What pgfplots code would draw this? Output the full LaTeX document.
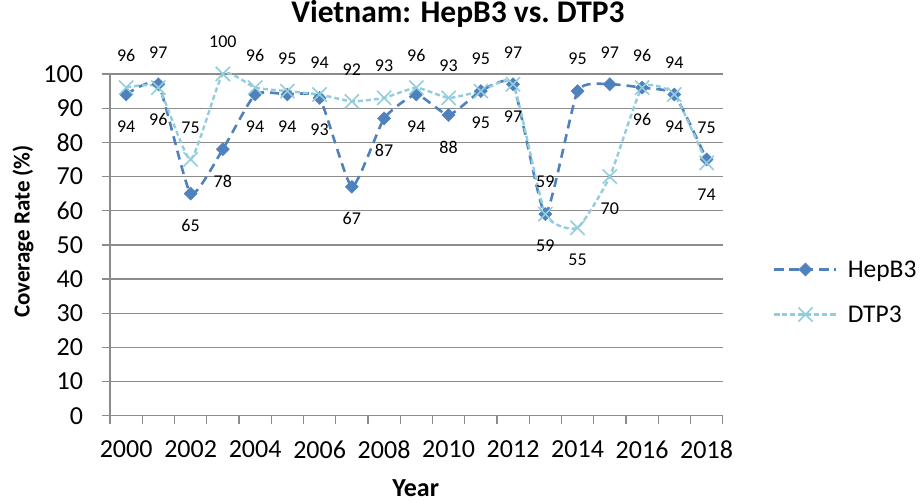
\documentclass[border=0pt]{standalone}
\usepackage{fontspec}
\setmainfont{Carlito}
\usepackage{pgfplots}
\usepackage{pgfplotstable}
\pgfplotsset{compat=1.18}
\definecolor{hep}{HTML}{4F81BD}
\definecolor{dtp}{HTML}{93CDDD}
\definecolor{gridc}{HTML}{8C8C8C}
\pgfplotstableread{
year h hp d dp
2000 94 -1 96 1
2001 97 1 96 -1
2002 65 -1 75 1
2003 78 -1 100 1
2004 94 -1 96 1
2005 94 -1 95 1
2006 93 -1 94 1
2007 67 -1 92 1
2008 87 -1 93 1
2009 94 -1 96 1
2010 88 -1 93 1
2011 95 -1 95 1
2012 97 -1 97 1
2013 59 1 59 -1
2014 95 1 55 -1
2015 97 1 70 -1
2016 96 1 96 -1
2017 94 1 94 -1
2018 75 1 74 -1
}\data
\begin{document}
\begin{tikzpicture}
\useasboundingbox (0pt,0pt) rectangle (920pt,-502pt);
\begin{axis}[
  at={(110pt,-415.7pt)}, anchor=south west,
  scale only axis, width=612.7pt, height=341.7pt,
  xmin=1999.5, xmax=2018.5, ymin=0, ymax=100,
  xtick={1999.5,2000.5,...,2018.5},
  xticklabels={},
  extra x ticks={2000,2002,...,2018},
  extra x tick labels={2000,2002,2004,2006,2008,2010,2012,2014,2016,2018},
  extra x tick style={xtick style={draw=none}, xticklabel style={yshift=-13pt}},
  ytick={0,10,...,100},
  ymajorgrids, grid style={gridc, line width=1.3pt},
  axis x line*=bottom, axis y line*=left,
  axis line style={gridc, line width=1.3pt, -},
  xtick align=outside, ytick align=outside,
  major tick length=8.5pt,
  xtick style={gridc, line width=1.3pt},
  ytick style={gridc, line width=1.3pt},
  tick label style={font=\fontsize{26}{30}\selectfont, text=black},
  yticklabel style={xshift=-15pt},
  yticklabel={\pgfmathprintnumber[assume math mode=true]{\tick}},
  title={Vietnam: HepB3 vs.\ DTP3},
  title style={at={(axis description cs:0.568,1.158)}, anchor=center, font=\fontsize{31.5}{36}\selectfont\bfseries},
  xlabel={Year},
  xlabel style={at={(axis description cs:0.499,-0.236)}, anchor=base, inner sep=0pt, font=\fontsize{26}{30}\selectfont\bfseries},
  ylabel={Coverage Rate (\%)},
  ylabel style={at={(axis description cs:-0.142,0.539)}, anchor=center, font=\fontsize{23}{28}\selectfont\bfseries},
  clip=false,
  legend style={at={(axis description cs:1.082,0.362)}, anchor=west, draw=none, fill=none, inner sep=0pt,
    row sep=23pt, column sep=4pt, font=\fontsize{25.5}{30}\selectfont,
    nodes={inner xsep=6pt}},
  legend cell align=left,
  legend image code/.code={\draw[mark repeat=2,mark phase=2,#1] plot coordinates {(0pt,0pt) (31pt,0pt) (62pt,0pt)};},
  nodes near coords={\pgfmathprintnumber[assume math mode=true]{\pgfplotspointmeta}},
  every node near coord/.append style={anchor=center, font=\fontsize{18}{21}\selectfont, text=black, yshift=\lp*32pt},
]
\addplot[hep, line width=2.6pt, dash pattern=on 9pt off 6pt, smooth, tension=0.3,
  mark=square*, mark size=4.6pt, mark options={solid, rotate=45, fill=hep, draw=hep, line width=0.5pt},
  visualization depends on={\thisrow{hp} \as \lp}]
  table[x=year, y=h] {\data};
\addlegendentry{HepB3}
\addplot[dtp, line width=2.4pt, dash pattern=on 5pt off 3pt, smooth, tension=0.3,
  mark=x, mark size=10pt, mark options={solid, draw=dtp, line width=1.6pt},
  visualization depends on={\thisrow{dp} \as \lp}]
  table[x=year, y=d] {\data};
\addlegendentry{DTP3}
\end{axis}
\end{tikzpicture}
\end{document}
